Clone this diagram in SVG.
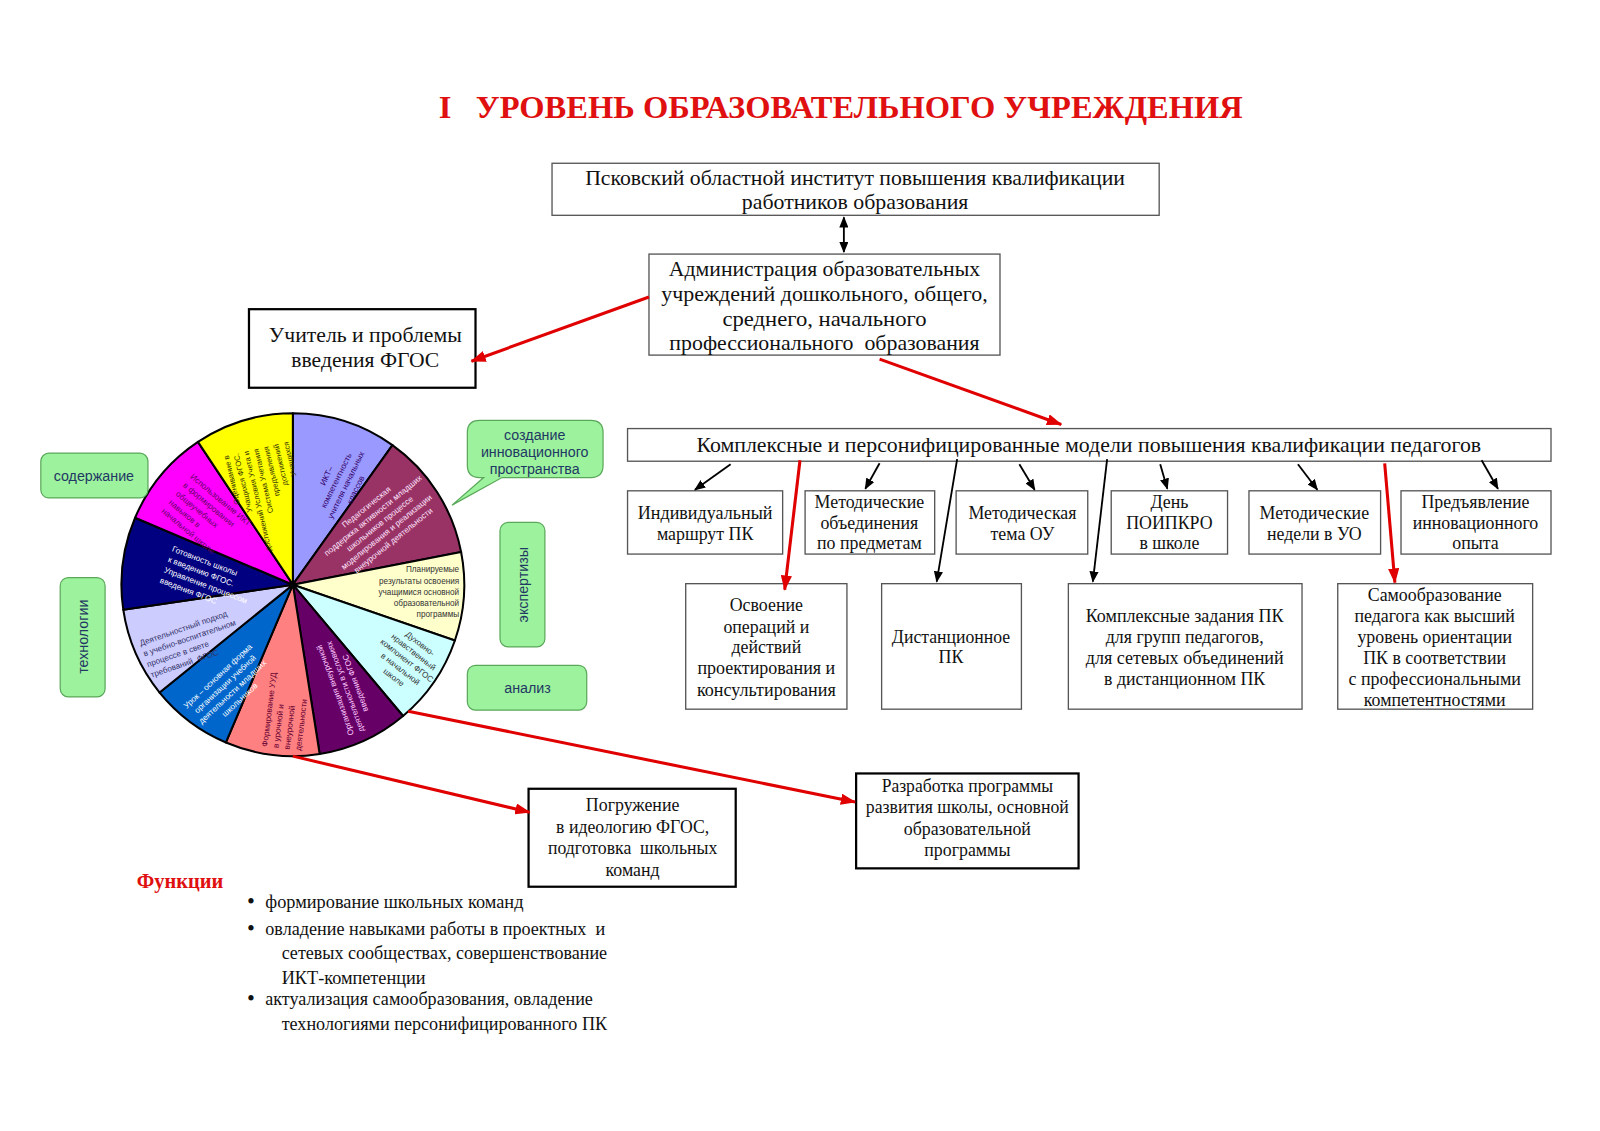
<svg xmlns="http://www.w3.org/2000/svg" width="1600" height="1131" viewBox="0 0 1600 1131">
<style>
.bg{fill:#fff}
.box{fill:#fff;stroke:#555;stroke-width:1.3}
.tbox{fill:#fff;stroke:#000;stroke-width:2.2}
.st{font-family:"Liberation Serif","Times New Roman",serif;font-size:20px;fill:#111;text-anchor:middle}
.sm{font-family:"Liberation Serif","Times New Roman",serif;font-size:17.5px;fill:#111;text-anchor:middle}
.bl{font-family:"Liberation Serif","Times New Roman",serif;font-size:18px;fill:#111}
.bu{font-family:"Liberation Serif","Times New Roman",serif;font-size:22px;fill:#111}
.title{font-family:"Liberation Serif","Times New Roman",serif;font-size:31px;font-weight:bold;fill:#e01010}
.fn{font-family:"Liberation Serif","Times New Roman",serif;font-size:20px;font-weight:bold;fill:#e01010}
.gb{fill:#9df29d;stroke:#5aa85a;stroke-width:1.2}
.gt{font-family:"Liberation Sans",Arial,sans-serif;font-size:14px;fill:#1f3864;text-anchor:middle}
.w{stroke:#000;stroke-width:2;stroke-linejoin:round}
.pt{font-family:"Liberation Sans",Arial,sans-serif;font-size:8px}
.red{stroke:#e00000;stroke-width:3;fill:none}
.blk{stroke:#000;stroke-width:1.8;fill:none}
</style>
<defs>
<marker id="ar" markerWidth="15" markerHeight="11" refX="14" refY="5.5" orient="auto" markerUnits="userSpaceOnUse"><path d="M0,0 L15,5.5 L0,11 z" fill="#e00000"/></marker>
<marker id="ab" markerWidth="11" markerHeight="9" refX="10" refY="4.5" orient="auto-start-reverse" markerUnits="userSpaceOnUse"><path d="M0,0 L11,4.5 L0,9 z" fill="#000"/></marker>
</defs>
<rect class="bg" x="0" y="0" width="1600" height="1131"/>
<g transform="scale(1.0204)">

<text class="title" x="430" y="116" textLength="788" lengthAdjust="spacingAndGlyphs" xml:space="preserve">I   УРОВЕНЬ ОБРАЗОВАТЕЛЬНОГО УЧРЕЖДЕНИЯ</text>

<g id="pskov">
<rect class="box" x="541" y="160" width="595" height="51"/>
<text class="st"><tspan x="838" y="181" textLength="529" lengthAdjust="spacingAndGlyphs">Псковский областной институт повышения квалификации</tspan><tspan x="838" y="205" textLength="222" lengthAdjust="spacingAndGlyphs">работников образования</tspan></text>
</g>

<g id="admin">
<rect class="box" x="636" y="249" width="344" height="99"/>
<text class="st" xml:space="preserve"><tspan x="808" y="270" textLength="305" lengthAdjust="spacingAndGlyphs">Администрация образовательных</tspan><tspan x="808" y="295" textLength="320" lengthAdjust="spacingAndGlyphs">учреждений дошкольного, общего,</tspan><tspan x="808" y="319" textLength="200" lengthAdjust="spacingAndGlyphs">среднего, начального</tspan><tspan x="808" y="343" textLength="304" lengthAdjust="spacingAndGlyphs">профессионального  образования</tspan></text>
</g>

<g id="teacher">
<rect class="tbox" x="244" y="303" width="222" height="77"/>
<text class="st"><tspan x="358" y="335" textLength="189" lengthAdjust="spacingAndGlyphs">Учитель и проблемы</tspan><tspan x="358" y="360" textLength="145" lengthAdjust="spacingAndGlyphs">введения ФГОС</tspan></text>
</g>

<g id="models">
<rect class="box" x="615" y="420" width="905" height="32"/>
<text class="st" x="1067" y="443" textLength="769" lengthAdjust="spacingAndGlyphs">Комплексные и персонифицированные модели повышения квалификации педагогов</text>
</g>

<g id="r1">
<rect class="box" x="615" y="481" width="152" height="62"/>
<text class="sm"><tspan x="691" y="509" textLength="132" lengthAdjust="spacingAndGlyphs">Индивидуальный</tspan><tspan x="691" y="529">маршрут ПК</tspan></text>
</g>
<g id="r2">
<rect class="box" x="789" y="481" width="127" height="62"/>
<text class="sm"><tspan x="852" y="498">Методические</tspan><tspan x="852" y="518">объединения</tspan><tspan x="852" y="538">по предметам</tspan></text>
</g>
<g id="r3">
<rect class="box" x="937" y="481" width="129" height="62"/>
<text class="sm"><tspan x="1002" y="509">Методическая</tspan><tspan x="1002" y="529">тема ОУ</tspan></text>
</g>
<g id="r4">
<rect class="box" x="1089" y="481" width="114" height="62"/>
<text class="sm"><tspan x="1146" y="498">День</tspan><tspan x="1146" y="518">ПОИПКРО</tspan><tspan x="1146" y="538">в школе</tspan></text>
</g>
<g id="r5">
<rect class="box" x="1224" y="481" width="129" height="62"/>
<text class="sm"><tspan x="1288" y="509">Методические</tspan><tspan x="1288" y="529">недели в УО</tspan></text>
</g>
<g id="r6">
<rect class="box" x="1373" y="481" width="147" height="62"/>
<text class="sm"><tspan x="1446" y="498">Предъявление</tspan><tspan x="1446" y="518">инновационного</tspan><tspan x="1446" y="538">опыта</tspan></text>
</g>

<g id="q1">
<rect class="box" x="672" y="572" width="158" height="123"/>
<text class="sm"><tspan x="751" y="599">Освоение</tspan><tspan x="751" y="620">операций и</tspan><tspan x="751" y="640">действий</tspan><tspan x="751" y="661" textLength="135" lengthAdjust="spacingAndGlyphs">проектирования и</tspan><tspan x="751" y="682" textLength="136" lengthAdjust="spacingAndGlyphs">консультирования</tspan></text>
</g>
<g id="q2">
<rect class="box" x="864" y="572" width="137" height="123"/>
<text class="sm"><tspan x="932" y="630" textLength="116" lengthAdjust="spacingAndGlyphs">Дистанционное</tspan><tspan x="932" y="650">ПК</tspan></text>
</g>
<g id="q3">
<rect class="box" x="1047" y="572" width="229" height="123"/>
<text class="sm"><tspan x="1161" y="610" textLength="194" lengthAdjust="spacingAndGlyphs">Комплексные задания ПК</tspan><tspan x="1161" y="630">для групп педагогов,</tspan><tspan x="1161" y="651" textLength="194" lengthAdjust="spacingAndGlyphs">для сетевых объединений</tspan><tspan x="1161" y="671">в дистанционном ПК</tspan></text>
</g>
<g id="q4">
<rect class="box" x="1311" y="572" width="191" height="123"/>
<text class="sm"><tspan x="1406" y="589">Самообразование</tspan><tspan x="1406" y="610">педагога как высший</tspan><tspan x="1406" y="630">уровень ориентации</tspan><tspan x="1406" y="651">ПК в соответствии</tspan><tspan x="1406" y="671" textLength="169" lengthAdjust="spacingAndGlyphs">с профессиональными</tspan><tspan x="1406" y="692">компетентностями</tspan></text>
</g>

<g id="immersion">
<rect class="tbox" x="518" y="773" width="203" height="96"/>
<text class="sm" xml:space="preserve"><tspan x="620" y="795">Погружение</tspan><tspan x="620" y="816" textLength="150" lengthAdjust="spacingAndGlyphs">в идеологию ФГОС,</tspan><tspan x="620" y="837" textLength="166" lengthAdjust="spacingAndGlyphs">подготовка  школьных</tspan><tspan x="620" y="858">команд</tspan></text>
</g>
<g id="program">
<rect class="tbox" x="839" y="758" width="218" height="93"/>
<text class="sm"><tspan x="948" y="776" textLength="168" lengthAdjust="spacingAndGlyphs">Разработка программы</tspan><tspan x="948" y="797" textLength="199" lengthAdjust="spacingAndGlyphs">развития школы, основной</tspan><tspan x="948" y="818">образовательной</tspan><tspan x="948" y="839">программы</tspan></text>
</g>

<g id="pie">
<path class="w" fill="#9999ff" d="M287,573 L287,405 A168,168 0 0 1 384.6,436.2 Z"/>
<path class="w" fill="#993366" d="M287,573 L384.6,436.2 A168,168 0 0 1 451.9,541 Z"/>
<path class="w" fill="#ffffcc" d="M287,573 L451.9,541 A168,168 0 0 1 445.8,627.7 Z"/>
<path class="w" fill="#ccffff" d="M287,573 L445.8,627.7 A168,168 0 0 1 395,701.7 Z"/>
<path class="w" fill="#660066" d="M287,573 L395,701.7 A168,168 0 0 1 313.3,738.9 Z"/>
<path class="w" fill="#ff8080" d="M287,573 L313.3,738.9 A168,168 0 0 1 221.4,727.6 Z"/>
<path class="w" fill="#0066cc" d="M287,573 L221.4,727.6 A168,168 0 0 1 156.4,678.7 Z"/>
<path class="w" fill="#ccccff" d="M287,573 L156.4,678.7 A168,168 0 0 1 120.8,597.5 Z"/>
<path class="w" fill="#000080" d="M287,573 L120.8,597.5 A168,168 0 0 1 132.4,507.4 Z"/>
<path class="w" fill="#ff00ff" d="M287,573 L132.4,507.4 A168,168 0 0 1 194,433.1 Z"/>
<path class="w" fill="#ffff00" d="M287,573 L194,433.1 A168,168 0 0 1 287,405 Z"/>
<circle cx="287" cy="573" r="3" fill="#000"/>

<text class="pt" fill="#330066" text-anchor="middle" transform="translate(334,473) rotate(-64)"><tspan x="0" y="-12.75">ИКТ–</tspan><tspan x="0" y="-2.25">компетентность</tspan><tspan x="0" y="8.25">учителя начальных</tspan><tspan x="0" y="18.75">классов</tspan></text>
<text class="pt" fill="#ffe6ff" text-anchor="middle" transform="translate(372,513) rotate(-39)"><tspan x="0" y="-18">Педагогическая</tspan><tspan x="0" y="-7.5">поддержка активности младших</tspan><tspan x="0" y="3">школьников процессе</tspan><tspan x="0" y="13.5">моделирования и реализации</tspan><tspan x="0" y="24">внеурочной деятельности</tspan></text>
<text class="pt" fill="#333" text-anchor="end"><tspan x="450" y="561">Планируемые</tspan><tspan x="450" y="572">результаты освоения</tspan><tspan x="450" y="583">учащимися основной</tspan><tspan x="450" y="594">образовательной</tspan><tspan x="450" y="605">программы</tspan></text>
<text class="pt" fill="#333" text-anchor="middle" transform="translate(399,647) rotate(38)"><tspan x="0" y="-18">Духовно-</tspan><tspan x="0" y="-7.5">нравственный</tspan><tspan x="0" y="3">компонент ФГОС</tspan><tspan x="0" y="13.5">в начальной</tspan><tspan x="0" y="24">школе</tspan></text>
<text class="pt" fill="#ffccff" text-anchor="middle" transform="translate(338,673) rotate(-110)"><tspan x="0" y="-7.5">Организация внеурочной</tspan><tspan x="0" y="3">деятельности в условиях</tspan><tspan x="0" y="13.5">введения ФГОС</tspan></text>
<text class="pt" fill="#660033" text-anchor="start" transform="translate(262,732) rotate(-83)"><tspan x="0" y="0">Формирование УУД</tspan><tspan x="0" y="11">в урочной и</tspan><tspan x="0" y="22">внеурочной</tspan><tspan x="0" y="33">деятельности</tspan></text>
<text class="pt" fill="#ffffff" text-anchor="middle" transform="translate(224,674) rotate(-43)"><tspan x="0" y="-12.75">Урок – основная форма</tspan><tspan x="0" y="-2.25">организации учебной</tspan><tspan x="0" y="8.25">деятельности младших</tspan><tspan x="0" y="18.75">школьников</tspan></text>
<text class="pt" fill="#333366" text-anchor="start" transform="translate(138,633) rotate(-19)" xml:space="preserve"><tspan x="0" y="0">Деятельностный подход</tspan><tspan x="0" y="11">в учебно-воспитательном</tspan><tspan x="0" y="22">процессе в свете</tspan><tspan x="0" y="33">требований  ФГОС</tspan></text>
<text class="pt" fill="#ffffff" text-anchor="start" transform="translate(168,540) rotate(21)"><tspan x="0" y="0">Готовность школы</tspan><tspan x="0" y="11">к введению ФГОС.</tspan><tspan x="0" y="22">Управление процессом</tspan><tspan x="0" y="33">введения ФГОС</tspan></text>
<text class="pt" fill="#660066" text-anchor="start" transform="translate(186,468) rotate(40)"><tspan x="0" y="0">Использование ИКТ</tspan><tspan x="0" y="11">в формировании</tspan><tspan x="0" y="22">общеучебных</tspan><tspan x="0" y="33">навыков в</tspan><tspan x="0" y="44">начальной школе</tspan></text>
<text class="pt" fill="#333300" text-anchor="end" style="font-size:7.5px" transform="translate(224,446) rotate(-103)"><tspan x="0" y="0">Оценивание в</tspan><tspan x="0" y="10">Учащихся ФГОС.</tspan><tspan x="0" y="20">достижений Условия Учета и</tspan><tspan x="0" y="30">Система Учетания</tspan><tspan x="0" y="40">предъявления</tspan><tspan x="0" y="50">достижений</tspan><tspan x="0" y="60">Учащихся</tspan></text>
</g>

<g id="soderzhanie">
<rect class="gb" x="40" y="444" width="105" height="44" rx="8"/>
<text class="gt" x="92" y="471">содержание</text>
</g>
<g id="sozdanie">
<path class="gb" d="M470,412 H579 Q591,412 591,424 V456 Q591,468 579,468 H492 L443,495 L474,468 H470 Q458,468 458,456 V424 Q458,412 470,412 Z"/>
<text class="gt"><tspan x="524" y="431">создание</tspan><tspan x="524" y="448">инновационного</tspan><tspan x="524" y="465">пространства</tspan></text>
</g>
<g id="ekspertizy">
<rect class="gb" x="490" y="512" width="44" height="122" rx="8"/>
<text class="gt" transform="translate(517,573) rotate(-90)">экспертизы</text>
</g>
<g id="tekhnologii">
<rect class="gb" x="59" y="566" width="44" height="117" rx="8"/>
<text class="gt" transform="translate(86,624) rotate(-90)">технологии</text>
</g>
<g id="analiz">
<rect class="gb" x="458" y="652" width="117" height="44" rx="8"/>
<text class="gt" x="517" y="679">анализ</text>
</g>

<g id="functions">
<text class="fn" x="134" y="870">Функции</text>
<text class="bu" x="242" y="891">•</text>
<text class="bl" x="260" y="890" textLength="253" lengthAdjust="spacingAndGlyphs">формирование школьных команд</text>
<text class="bu" x="242" y="917">•</text>
<text class="bl" x="260" y="916" textLength="333" lengthAdjust="spacingAndGlyphs" xml:space="preserve">овладение навыками работы в проектных  и</text>
<text class="bl" x="276" y="940" textLength="319" lengthAdjust="spacingAndGlyphs">сетевых сообществах, совершенствование</text>
<text class="bl" x="276" y="964" textLength="141" lengthAdjust="spacingAndGlyphs">ИКТ-компетенции</text>
<text class="bu" x="242" y="986">•</text>
<text class="bl" x="260" y="985" textLength="321" lengthAdjust="spacingAndGlyphs">актуализация самообразования, овладение</text>
<text class="bl" x="276" y="1009" textLength="319" lengthAdjust="spacingAndGlyphs">технологиями персонифицированного ПК</text>
</g>

<g id="connectors">
<line class="blk" x1="827" y1="213" x2="827" y2="247" marker-start="url(#ab)" marker-end="url(#ab)"/>
<line class="red" x1="636" y1="291" x2="462" y2="354" marker-end="url(#ar)"/>
<line class="red" x1="862" y1="352" x2="1040" y2="416" marker-end="url(#ar)"/>
<line class="blk" x1="716" y1="455" x2="681" y2="480" marker-end="url(#ab)"/>
<line class="blk" x1="862" y1="454" x2="848" y2="479" marker-end="url(#ab)"/>
<line class="blk" x1="999" y1="455" x2="1014" y2="480" marker-end="url(#ab)"/>
<line class="blk" x1="1137" y1="455" x2="1144" y2="479" marker-end="url(#ab)"/>
<line class="blk" x1="1272" y1="455" x2="1291" y2="480" marker-end="url(#ab)"/>
<line class="blk" x1="1452" y1="451" x2="1468" y2="479" marker-end="url(#ab)"/>
<line class="blk" x1="938" y1="450" x2="918" y2="570" marker-end="url(#ab)"/>
<line class="blk" x1="1085" y1="450" x2="1071" y2="570" marker-end="url(#ab)"/>
<line class="red" x1="784" y1="451" x2="769" y2="578" marker-end="url(#ar)"/>
<line class="red" x1="1357" y1="454" x2="1367" y2="571" marker-end="url(#ar)"/>
<line class="red" x1="287" y1="741" x2="519" y2="796" marker-end="url(#ar)"/>
<line class="red" x1="400" y1="697" x2="838" y2="786" marker-end="url(#ar)"/>
</g>
</g>
</svg>
